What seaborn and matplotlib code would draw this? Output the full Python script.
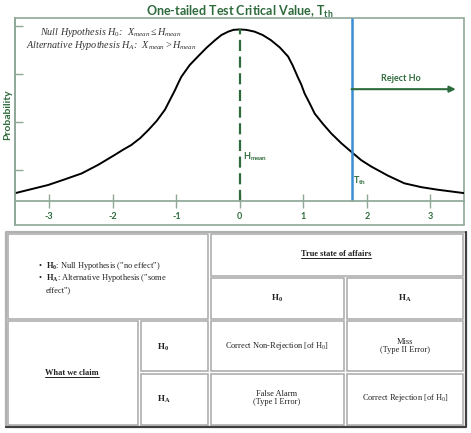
import matplotlib
matplotlib.use("Agg")
import matplotlib.pyplot as plt
import seaborn as sns
from matplotlib.patches import Rectangle

# curve values
x_vals = [-3.54, -3.02, -2.76, -2.49, -2.23, -1.97, -1.84, -1.71, -1.57, -1.44, -1.31, -1.18, -1.10,
          -1.02, -0.97, -0.92, -0.79, -0.66, -0.52, -0.39, -0.29, -0.18, -0.10, 0.0,
          0.10, 0.23, 0.36, 0.49, 0.63, 0.76, 0.83, 0.91, 0.97, 1.02, 1.10, 1.18, 1.31, 1.44,
          1.60, 1.75, 1.91, 2.07, 2.33, 2.59, 2.86, 3.12, 3.54]
y_vals = [0.018, 0.037, 0.050, 0.064, 0.084, 0.107, 0.119, 0.130, 0.146, 0.165, 0.186, 0.212, 0.235,
          0.258, 0.274, 0.289, 0.316, 0.336, 0.357, 0.374, 0.386, 0.394, 0.398, 0.399,
          0.398, 0.394, 0.386, 0.374, 0.357, 0.336, 0.316, 0.289, 0.270, 0.250, 0.227, 0.203, 0.179, 0.157,
          0.134, 0.115, 0.095, 0.080, 0.059, 0.041, 0.032, 0.026, 0.018]
x_ticks = [-3, -2, -1, 0, 1, 2, 3]
y_ticks = [0.072, 0.184, 0.295, 0.407]
h_mean = 0.0
t_th = 1.76

title = r"One-tailed Test Critical Value, $\mathbf{T_{th}}$"
hyp_lines = [r"Null Hypothesis $H_0$:  $X_{mean} \leq H_{mean}$",
             r"Alternative Hypothesis $H_A$:  $X_{mean} > H_{mean}$"]

# table text
bullet_lines = [r'$\mathsf{H_0}$: Null Hypothesis ("no effect")',
                r'$\mathsf{H_A}$: Alternative Hypothesis ("some',
                'effect")']
truth_header = "True state of affairs"
claim_header = "What we claim"
hyp_labels = [r"$\mathsf{H_0}$", r"$\mathsf{H_A}$"]
outcomes = [[r"Correct Non-Rejection [of $\mathrm{H_0}$]", "Miss\n(Type II Error)"],
            ["False Alarm\n(Type I Error)", r"Correct Rejection [of $\mathrm{H_0}$]"]]

sns.set_theme(style="white")
plt.rcParams['font.family'] = ['Lato', 'DejaVu Sans']
plt.rcParams['mathtext.fontset'] = 'custom'
plt.rcParams['mathtext.rm'] = 'Liberation Serif'
plt.rcParams['mathtext.it'] = 'Liberation Serif:italic'
plt.rcParams['mathtext.bf'] = 'Lato:bold'
plt.rcParams['mathtext.sf'] = 'Liberation Serif:bold'

green = '#2e6b3c'
frame_c = '#8fa898'
blue = '#3b8ed4'
W, H = 471, 433

def fx(px):
    return px / W

def fy(py):
    return 1 - py / H

fig = plt.figure(figsize=(W / 100, H / 100), dpi=100)
ax = fig.add_axes([fx(15), fy(225), (464 - 15) / W, (225 - 18) / H])

sns.lineplot(x=x_vals, y=y_vals, color='black', lw=1.4, ax=ax)
ax.set_xlim(-3.54, 3.53)
ax.set_ylim(-0.056, 0.4256)
ax.spines['top'].set_visible(False)
ax.spines['right'].set_visible(False)
ax.spines['bottom'].set_position(('data', 0))
ax.spines['bottom'].set_color(frame_c)
ax.spines['left'].set_color(frame_c)
ax.add_patch(Rectangle((0, 0), 1, 1, transform=ax.transAxes, fill=False,
                       ec=frame_c, lw=1.2, clip_on=False))
ax.set_xticks(x_ticks)
ax.set_xticklabels([str(t) for t in x_ticks])
ax.tick_params(axis='x', bottom=True, direction='inout', length=10, width=1,
               color=frame_c, labelsize=6.5, labelcolor=green, pad=3)
for lab in ax.get_xticklabels():
    lab.set_fontweight('bold')
ax.set_yticks(y_ticks)
ax.set_yticklabels([])
ax.tick_params(axis='y', left=True, direction='in', length=6, width=1, color=frame_c)

ax.vlines(h_mean, 0, max(y_vals), colors=green, lw=1.6, linestyles=(0, (5, 2.5)))
ax.vlines(t_th, 0, ax.get_ylim()[1], colors=blue, lw=1.8)
ax.annotate('', xy=(3.40, 0.26), xytext=(t_th, 0.26),
            arrowprops=dict(arrowstyle='-|>', color=green, lw=1.5, mutation_scale=9,
                            shrinkA=0, shrinkB=0))
ax.text(2.54, 0.286, 'Reject Ho', ha='center', va='center', fontsize=6.5,
        fontweight='bold', color=green)
ax.text(h_mean + 0.05, 0.102, r"$\mathbf{H_{mean}}$", fontsize=6.5, color=green,
        ha='left', va='center')
ax.text(t_th + 0.03, 0.047, r"$\mathbf{T_{th}}$", fontsize=6.5, color=green,
        ha='left', va='center')

fig.text(fx(240), fy(12), title, ha='center', va='center', fontsize=9,
         fontweight='bold', color=green)
fig.text(fx(8), fy(115), 'Probability', rotation=90, ha='center', va='center',
         fontsize=7.5, fontweight='bold', color=green)
for i, line in enumerate(hyp_lines):
    fig.text(fx(111), fy(35 + 12.5 * i), line, ha='center', va='baseline', fontsize=7.3,
             family='Liberation Serif', style='italic', color='#333333')

# table below the chart, drawn in pixel coordinates
tab = fig.add_axes([0, 0, 1, 1])
tab.set_xlim(0, W)
tab.set_ylim(H, 0)
tab.axis('off')

cells = [(8, 234, 208, 319), (211, 234, 463, 276), (211, 278, 344, 319), (347, 278, 463, 319),
         (8, 321, 138, 425), (141, 321, 208, 371), (141, 374, 208, 425),
         (211, 321, 344, 371), (347, 321, 463, 371), (211, 374, 344, 425), (347, 374, 463, 425)]
for x0, y0, x1, y1 in cells:
    tab.add_patch(Rectangle((x0, y0), x1 - x0, y1 - y0, fill=False, ec='#a8a8a8', lw=1.1))
tab.plot([6, 6, 466], [427, 232, 232], color='#b0b0b0', lw=1.6)
tab.plot([6, 466, 466], [427, 427, 232], color='#404040', lw=1.6)

serif = 'Liberation Serif'
tc = '#222222'
for i, line in enumerate(bullet_lines):
    y = 266 + 12 * i
    if i < 2:
        tab.text(40, y, '\u2022', ha='center', va='center', fontsize=6, family=serif, color=tc)
    tab.text(46, y, line, ha='left', va='center', fontsize=6, family=serif, color=tc)

under = []
under.append(tab.text(336, 254, truth_header, ha='center', va='center', fontsize=6,
                      family=serif, fontweight='bold', color=tc))
under.append(tab.text(72, 373, claim_header, ha='center', va='center', fontsize=6,
                      family=serif, fontweight='bold', color=tc))
tab.text(277, 298, hyp_labels[0], ha='center', va='center', fontsize=6.5, color=tc)
tab.text(405, 298, hyp_labels[1], ha='center', va='center', fontsize=6.5, color=tc)
tab.text(157, 347, hyp_labels[0], ha='left', va='center', fontsize=6.5, color=tc)
tab.text(157, 399, hyp_labels[1], ha='left', va='center', fontsize=6.5, color=tc)
col_x = [277, 405]
row_y = [346, 398]
for r in range(2):
    for c in range(2):
        tab.text(col_x[c], row_y[r], outcomes[r][c], ha='center', va='center', fontsize=6,
                 family=serif, color=tc, linespacing=1.05)

fig.canvas.draw()
inv = tab.transData.inverted()
for t in under:
    bb = t.get_window_extent().transformed(inv)
    tab.plot([bb.x0, bb.x1], [max(bb.y0, bb.y1) - 0.5] * 2, color=tc, lw=0.7)

fig.savefig('out.png', dpi=100)
